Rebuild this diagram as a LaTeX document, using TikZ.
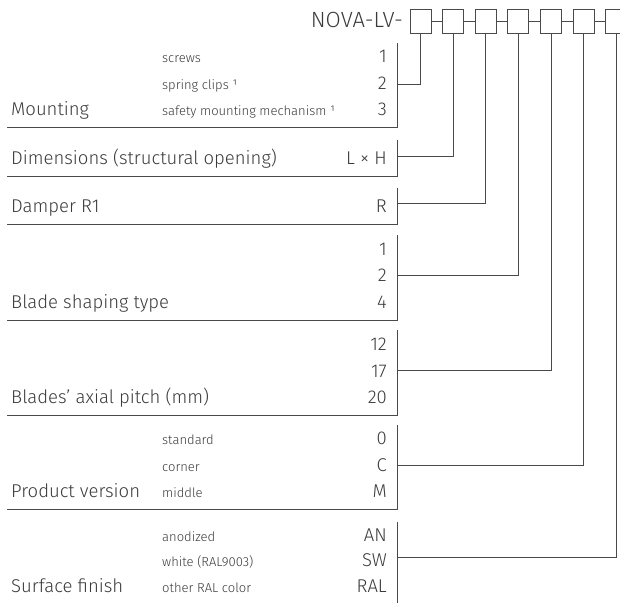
\documentclass[tikz,border=0pt]{standalone}
\usepackage{fontspec}
\setmainfont{Fira Sans Light}
\usetikzlibrary{positioning}
\definecolor{inkgray}{HTML}{3A3A3A}
\definecolor{rulegray}{HTML}{4A4A4A}
\tikzset{%
codebox/.style={draw=rulegray,line width=0.8pt,minimum width=21pt,minimum height=24pt,inner sep=0},
title/.style={font=\fontsize{22}{22}\selectfont,text=inkgray,inner sep=0,anchor=base east},
grouplabel/.style={font=\fontsize{18.5}{18.5}\selectfont,text=inkgray,inner sep=0,anchor=base west},
codetext/.style={font=\fontsize{18.5}{18.5}\selectfont,text=inkgray,inner sep=0,anchor=base east},
option/.style={font=\fontsize{13}{13}\selectfont,text=inkgray,inner sep=0,anchor=base west},
rule/.style={draw=rulegray,line width=0.8pt},
link/.style={draw=rulegray,line width=0.8pt}
}

\begin{document}
\begin{tikzpicture}[x=1pt,y=-1pt]
    \useasboundingbox (0,0) rectangle (620,603);

    % code boxes
    \node[title]   (type) at (403,27) {NOVA-LV-};
    \node[codebox] (b1) at (420.5,21) {};
    \node[codebox] (b2) [right=10.8pt of b1] {};
    \node[codebox] (b3) [right=10.8pt of b2] {};
    \node[codebox] (b4) [right=10.8pt of b3] {};
    \node[codebox] (b5) [right=10.8pt of b4] {};
    \node[codebox] (b6) [right=10.8pt of b5] {};
    \node[codebox] (b7) [right=10.8pt of b6] {};
    \path[link] (b1) edge (b2) (b2) edge (b3) (b3) edge (b4)
                (b4) edge (b5) (b5) edge (b6) (b6) edge (b7);

    % mounting
    \node[grouplabel] (mount)  at (11,115.5) {Mounting};
    \node[option]     (mnt1)   at (162,62.5) {screws};
    \node[option]     (mnt2)   at (162,89)   {spring clips ¹};
    \node[option]     (mnt3)   at (162,115.5) {safety mounting mechanism ¹};
    \node[codetext]   (mntc1)  at (387,62.5) {1};
    \node[codetext]   (mntc2)  at (387,89)   {2};
    \node[codetext]   (mntc3)  at (387,115.5) {3};
    \draw[rule] (397,43) -- (397,127.5) -- (7,127.5);
    \coordinate (mntbar) at (397,84);

    % dimensions
    \node[grouplabel] (dim)    at (11,164) {Dimensions (structural opening)};
    \node[codetext]   (dimc)   at (387,164) {L × H};
    \draw[rule] (397,140) -- (397,176.5) -- (7,176.5);
    \coordinate (dimbar) at (397,156);

    % damper
    \node[grouplabel] (damp)   at (11,212.5) {Damper R1};
    \node[codetext]   (dampc)  at (387,212.5) {R};
    \draw[rule] (397,188) -- (397,224.5) -- (7,224.5);
    \coordinate (dampbar) at (397,203.5);

    % blade shaping
    \node[grouplabel] (shape)  at (11,308) {Blade shaping type};
    \node[codetext]   (shpc1)  at (387,255) {1};
    \node[codetext]   (shpc2)  at (387,281.5) {2};
    \node[codetext]   (shpc3)  at (387,308) {4};
    \draw[rule] (397,235) -- (397,320) -- (7,320);
    \coordinate (shpbar) at (397,275);

    % axial pitch
    \node[grouplabel] (pitch)  at (11,403.5) {Blades’ axial pitch (mm)};
    \node[codetext]   (ptc1)   at (387,350.5) {12};
    \node[codetext]   (ptc2)   at (387,377) {17};
    \node[codetext]   (ptc3)   at (387,403.5) {20};
    \draw[rule] (397,330) -- (397,415) -- (7,415);
    \coordinate (ptbar) at (397,370);

    % product version
    \node[grouplabel] (vers)   at (11,497.5) {Product version};
    \node[option]     (ver1)   at (162,444.5) {standard};
    \node[option]     (ver2)   at (162,471) {corner};
    \node[option]     (ver3)   at (162,497.5) {middle};
    \node[codetext]   (verc1)  at (387,444.5) {0};
    \node[codetext]   (verc2)  at (387,471) {C};
    \node[codetext]   (verc3)  at (387,497.5) {M};
    \draw[rule] (397,425) -- (397,509.5) -- (7,509.5);
    \coordinate (verbar) at (397,465);

    % surface finish
    \node[grouplabel] (surf)   at (11,592) {Surface finish};
    \node[option]     (srf1)   at (162,541) {anodized};
    \node[option]     (srf2)   at (162,566) {white (RAL9003)};
    \node[option]     (srf3)   at (162,592) {other RAL color};
    \node[codetext]   (srfc1)  at (387,541) {AN};
    \node[codetext]   (srfc2)  at (387,566) {SW};
    \node[codetext]   (srfc3)  at (387,592) {RAL};
    \draw[rule] (397,521.5) -- (397,603);
    \coordinate (srfbar) at (397,557);

    % connectors
    \draw[link] (b1.south) |- (mntbar);
    \draw[link] (b2.south) |- (dimbar);
    \draw[link] (b3.south) |- (dampbar);
    \draw[link] (b4.south) |- (shpbar);
    \draw[link] (b5.south) |- (ptbar);
    \draw[link] (b6.south) |- (verbar);
    \draw[link] (b7.south) |- (srfbar);

\end{tikzpicture}
\end{document}
